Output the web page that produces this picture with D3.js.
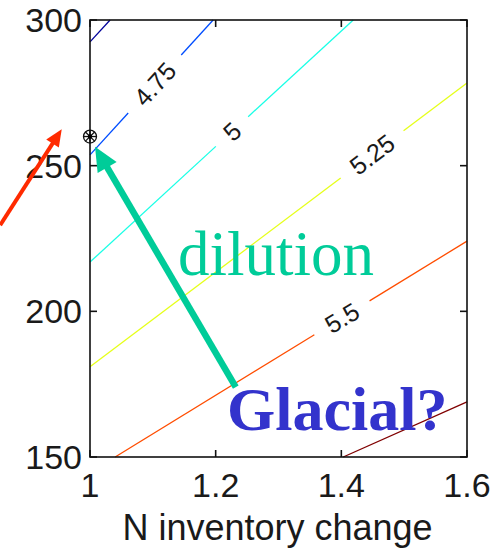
<!DOCTYPE html>
<html>
<head>
<meta charset="utf-8">
<script src="https://cdn.jsdelivr.net/npm/d3@7"></script>
<style>
  html, body { margin: 0; padding: 0; background: #fff; }
  svg { display: block; }
</style>
</head>
<body>
<svg id="chart" width="499" height="548"></svg>
<script>
// Contour levels of the model surface and their jet colours
const levels = [4.5, 4.75, 5, 5.25, 5.5, 5.75];
const levelColors = ["#00009a", "#004dff", "#19ffe6", "#e6ff19", "#ff4d00", "#800000"];

// Each contour as a polyline in data units: [N inventory change, y]
const contour450 = [[1.000, 292.5], [1.032, 300.0]];
const contour475 = [[1.000, 253.7], [1.196, 300.0]];
const contour500 = [[1.000, 216.9], [1.419, 300.0]];
const contour525 = [[1.000, 181.0], [1.600, 278.4]];
const contour550 = [[1.040, 150.0], [1.600, 224.1]];
const contour575 = [[1.403, 150.0], [1.600, 168.9]];
const contours = [contour450, contour475, contour500, contour525, contour550, contour575];

// Where along x each inline label sits (null = unlabelled)
const labelAtX = [null, 1.103, 1.226, 1.449, 1.401, null];

// Axis ticks
const xTicks = [1, 1.2, 1.4, 1.6];
const yTicks = [150, 200, 250, 300];
const xLabel = "N inventory change";

// Marked present-day point
const markerPoint = [1.0, 260];

// Annotation arrows (tail -> head) and texts, in data units
const redArrow = [[0.857, 229.6], [0.955, 262.5]];
const greenArrow = [[1.232, 174.0], [1.008, 256.5]];
const dilutionText = { text: "dilution", at: [1.140, 212.5] };
const glacialText = { text: "Glacial?", at: [1.218, 159.3] };

const svg = d3.select("#chart");
const plot = { left: 90, right: 467, top: 20, bottom: 457 };

const x = d3.scaleLinear().domain([1, 1.6]).range([plot.left, plot.right]);
const y = d3.scaleLinear().domain([150, 300]).range([plot.bottom, plot.top]);

const fmt = d => (d === 1 ? "1" : d3.format(".1f")(d));

// --- contour lines with inline labels ---
const gC = svg.append("g");
contours.forEach((pts, i) => {
  const p = pts.map(d => [x(d[0]), y(d[1])]);
  const color = levelColors[i];
  const lab = labelAtX[i];
  if (lab === null) {
    gC.append("path").attr("d", d3.line()(p))
      .attr("fill", "none").attr("stroke", color).attr("stroke-width", 1.3);
    return;
  }
  const [a, b] = p;
  const dx = b[0] - a[0], dy = b[1] - a[1];
  const len = Math.hypot(dx, dy);
  const ux = dx / len, uy = dy / len;
  const t = (x(lab) - a[0]) / dx;
  const c = [a[0] + t * dx, a[1] + t * dy];
  const angle = Math.atan2(dy, dx) * 180 / Math.PI;

  const txt = gC.append("text")
    .attr("transform", `translate(${c[0]},${c[1]}) rotate(${angle})`)
    .attr("text-anchor", "middle")
    .attr("dominant-baseline", "central")
    .attr("font-family", "Liberation Sans, Arial, sans-serif")
    .attr("font-size", 25)
    .attr("fill", "#1a1a1a")
    .text(String(levels[i]));
  const half = txt.node().getComputedTextLength() / 2 + 15;

  const g1 = [c[0] - ux * half, c[1] - uy * half];
  const g2 = [c[0] + ux * half, c[1] + uy * half];
  gC.append("path").attr("d", d3.line()([a, g1]))
    .attr("fill", "none").attr("stroke", color).attr("stroke-width", 1.3);
  gC.append("path").attr("d", d3.line()([g2, b]))
    .attr("fill", "none").attr("stroke", color).attr("stroke-width", 1.3);
});

// --- axes box with inward ticks on all four sides ---
const tickLen = 7;
const gA = svg.append("g").attr("stroke", "#111").attr("stroke-width", 1.6);
gA.append("rect")
  .attr("x", plot.left).attr("y", plot.top)
  .attr("width", plot.right - plot.left).attr("height", plot.bottom - plot.top)
  .attr("fill", "none");
xTicks.forEach(v => {
  gA.append("line").attr("x1", x(v)).attr("x2", x(v))
    .attr("y1", plot.bottom).attr("y2", plot.bottom - tickLen);
  gA.append("line").attr("x1", x(v)).attr("x2", x(v))
    .attr("y1", plot.top).attr("y2", plot.top + tickLen);
});
yTicks.forEach(v => {
  gA.append("line").attr("y1", y(v)).attr("y2", y(v))
    .attr("x1", plot.left).attr("x2", plot.left + tickLen);
  gA.append("line").attr("y1", y(v)).attr("y2", y(v))
    .attr("x1", plot.right).attr("x2", plot.right - tickLen);
});

const tickFont = "Liberation Sans, Arial, sans-serif";
svg.append("g").selectAll("text").data(xTicks).join("text")
  .attr("x", d => x(d)).attr("y", 497)
  .attr("text-anchor", "middle")
  .attr("font-family", tickFont).attr("font-size", 34).attr("fill", "#1a1a1a")
  .text(fmt);
svg.append("g").selectAll("text").data(yTicks).join("text")
  .attr("x", plot.left - 8).attr("y", d => y(d) + 12)
  .attr("text-anchor", "end")
  .attr("font-family", tickFont).attr("font-size", 34).attr("fill", "#1a1a1a")
  .text(d => d);
svg.append("text")
  .attr("x", (plot.left + plot.right) / 2 - 1).attr("y", 540)
  .attr("text-anchor", "middle")
  .attr("font-family", tickFont).attr("font-size", 36).attr("fill", "#1a1a1a")
  .text(xLabel);

// --- present-day marker (circle with star) ---
const mx = x(markerPoint[0]), my = y(markerPoint[1]);
const gM = svg.append("g").attr("stroke", "#111").attr("stroke-width", 1.3).attr("fill", "none");
gM.append("circle").attr("cx", mx).attr("cy", my).attr("r", 6.5);
[0, 45, 90, 135].forEach(a => {
  const r = 6.5, ca = Math.cos(a * Math.PI / 180), sa = Math.sin(a * Math.PI / 180);
  gM.append("line").attr("x1", mx - r * ca).attr("y1", my - r * sa)
    .attr("x2", mx + r * ca).attr("y2", my + r * sa);
});
svg.append("circle").attr("cx", mx).attr("cy", my).attr("r", 2.2).attr("fill", "#000");

// --- annotation arrows ---
function arrow(pts, color, width, headLen, headW) {
  const [t0, t1] = pts.map(d => [x(d[0]), y(d[1])]);
  const dx = t1[0] - t0[0], dy = t1[1] - t0[1];
  const L = Math.hypot(dx, dy), ux = dx / L, uy = dy / L;
  const base = [t1[0] - ux * headLen, t1[1] - uy * headLen];
  svg.append("line")
    .attr("x1", t0[0]).attr("y1", t0[1])
    .attr("x2", base[0] + ux * 2).attr("y2", base[1] + uy * 2)
    .attr("stroke", color).attr("stroke-width", width);
  const px = -uy, py = ux;
  svg.append("path")
    .attr("d", d3.line()([
      t1,
      [base[0] + px * headW / 2, base[1] + py * headW / 2],
      [base[0] - px * headW / 2, base[1] - py * headW / 2]
    ]) + "Z")
    .attr("fill", color);
}
arrow(redArrow, "#ff2a00", 4, 17, 15);
arrow(greenArrow, "#00cc99", 6.5, 24, 22);

// --- annotation texts ---
svg.append("text")
  .attr("x", x(dilutionText.at[0])).attr("y", y(dilutionText.at[1]))
  .attr("font-family", "Liberation Serif, Times New Roman, serif")
  .attr("font-size", 63).attr("fill", "#00cc99")
  .text(dilutionText.text);
svg.append("text")
  .attr("x", x(glacialText.at[0])).attr("y", y(glacialText.at[1]))
  .attr("font-family", "Liberation Serif, Times New Roman, serif")
  .attr("font-weight", "bold")
  .attr("font-size", 62).attr("fill", "#3333cc")
  .text(glacialText.text);
</script>
</body>
</html>
